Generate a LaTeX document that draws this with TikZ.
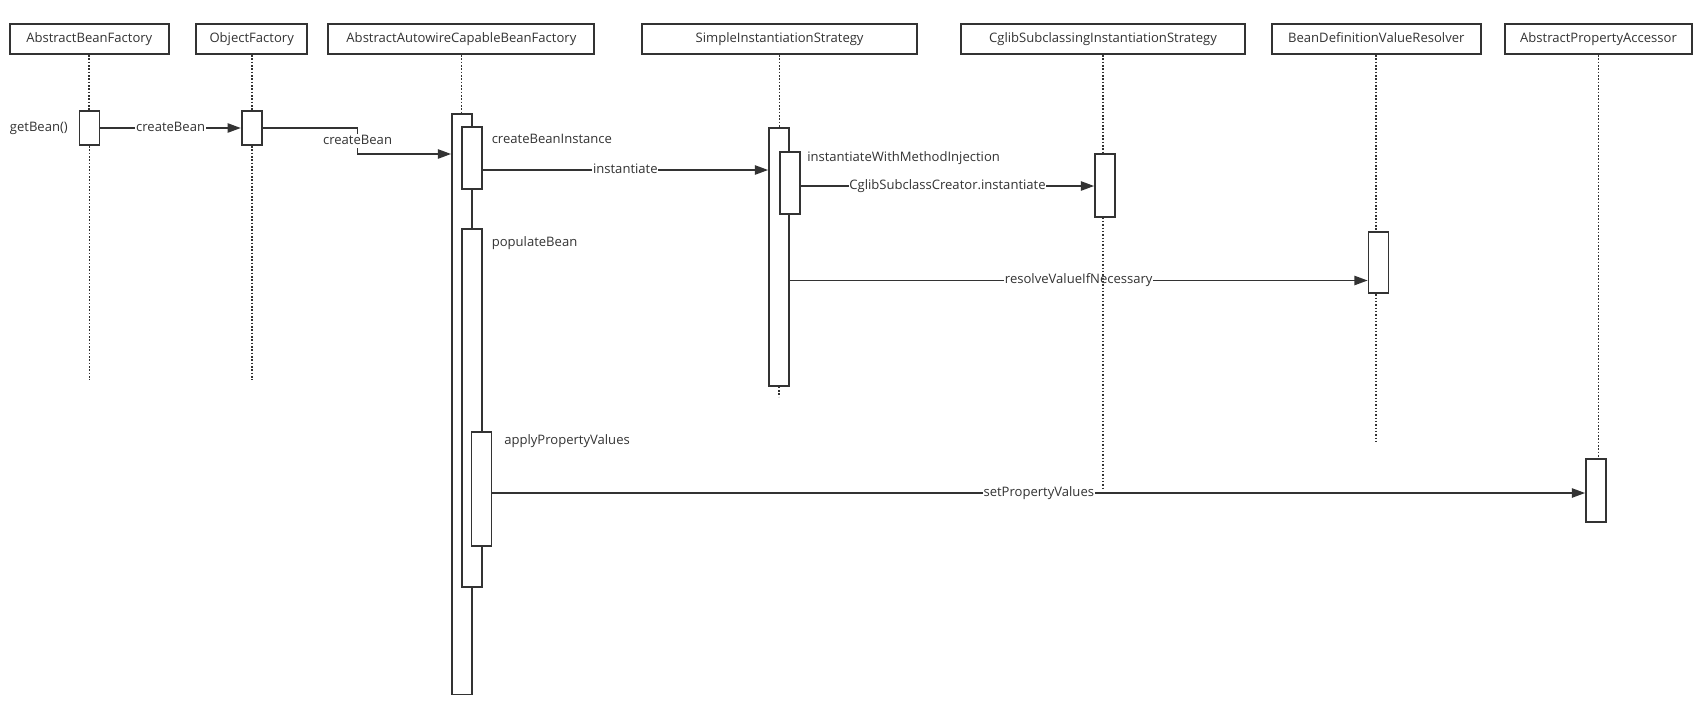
\documentclass[tikz,border=0pt]{standalone}
\usepackage{fontspec}
\setmainfont{Open Sans}
\usetikzlibrary{arrows.meta,positioning}
\definecolor{ink}{HTML}{333333}
\begin{document}
\begin{tikzpicture}[x=0.75pt,y=-0.75pt,
    font=\fontsize{9.8pt}{12pt}\selectfont,
    every node/.style={text=ink, text height=7.4pt, text depth=2.2pt},
    hdr/.style={draw=ink, line width=1.5pt, minimum height=22.5pt, inner sep=0pt},
    act/.style={draw=ink, fill=white, line width=1.3pt, minimum width=15pt, inner sep=0pt},
    msg/.style={draw=ink, line width=1.25pt, -{Triangle[length=10pt,width=7pt]}},
    lbl/.style={fill=white, inner sep=0.6pt},
    life/.style={draw=ink, line width=1.3pt, dash pattern=on 1.2pt off 1.3pt},
    txt/.style={anchor=west, inner sep=0pt}]
    \useasboundingbox (0,0) rectangle (1699,707);
    \node[hdr, minimum width=119.5pt] (h1) at (89.3,39)  {AbstractBeanFactory};
    \node[hdr, minimum width=83pt]    (h2) at (251.7,39) {ObjectFactory};
    \node[hdr, minimum width=199.5pt] (h3) at (461.4,39) {AbstractAutowireCapableBeanFactory};
    \node[hdr, minimum width=205.8pt] (h4) at (779.6,39) {SimpleInstantiationStrategy};
    \node[hdr, minimum width=212.3pt] (h5) at (1103,39)  {CglibSubclassingInstantiationStrategy};
    \node[hdr, minimum width=157.1pt] (h6) at (1376.3,39) {BeanDefinitionValueResolver};
    \node[hdr, minimum width=140.3pt] (h7) at (1598.5,39) {AbstractPropertyAccessor};

    \node[act, minimum height=25.7pt]  (a1)  at (89.5,128)   {};
    \node[act, minimum height=25.7pt]  (a2)  at (251.7,128)  {};
    \node[act, minimum height=435.4pt] (a3)  at (462,404.3)  {};
    \node[act, minimum height=46.7pt]  (a3a) at (471.7,157.9) {};
    \node[act, minimum height=268.5pt] (a3b) at (472,408)    {};
    \node[act, minimum height=85.5pt]  (a3c) at (481.6,488.7) {};
    \node[act, minimum height=193.5pt] (a4)  at (779,256.7)  {};
    \node[act, minimum height=46.7pt]  (a4a) at (790,182.8)  {};
    \node[act, minimum height=47pt]    (a5)  at (1105,185.3) {};
    \node[act, minimum height=46.2pt]  (a6)  at (1378.5,262.5) {};
    \node[act, minimum height=46.8pt]  (a7)  at (1596,490.5) {};

    \node[txt, left=7.9pt of a1] (getbean) {getBean()};
    \node[txt] (cbi) at (491.5,140) {createBeanInstance};
    \node[txt] (iwmi) at (807,158) {instantiateWithMethodInjection};
    \node[txt] (pop) at (491.5,243) {populateBean};
    \node[txt] (apv) at (504,441) {applyPropertyValues};

    \draw[msg] (a1.east) -- node[lbl] {createBean} (a2.west);
    \draw[msg] (a2.east) -- ++(95,0) -- node[lbl] {createBean} ++(0,26) -- (a3.west |- 0,154);
    \draw[msg] (a3a.east |- 0,170) -- node[lbl] {instantiate} (a4.west |- 0,170);
    \draw[msg] (a4a.east |- 0,186) -- node[lbl] {CglibSubclassCreator.instantiate} (a5.west |- 0,186);
    \draw[msg] (a4.east |- 0,280.5) -- node[lbl] {resolveValueIfNecessary} (a6.west |- 0,280.5);
    \draw[msg] (a3c.east |- 0,493) -- node[lbl] {setPropertyValues} (a7.west |- 0,493);

    \draw[life] (h1.south) -- (h1.south |- a1.north) (a1.south) -- ++(0,234);
    \draw[life] (h2.south) -- (h2.south |- a2.north) (a2.south) -- ++(0,234);
    \draw[life] (h3.south) -- (h3.south |- a3.north);
    \draw[life] (h4.south) -- (h4.south |- a4.north) (a4.south) -- ++(0,10);
    \draw[life] (h5.south) -- (h5.south |- a5.north) (h5.south |- a5.south) -- ++(0,273);
    \draw[life] (h6.south) -- (h6.south |- a6.north) (h6.south |- a6.south) -- ++(0,149);
    \draw[life] (h7.south) -- (h7.south |- a7.north);
\end{tikzpicture}
\end{document}
